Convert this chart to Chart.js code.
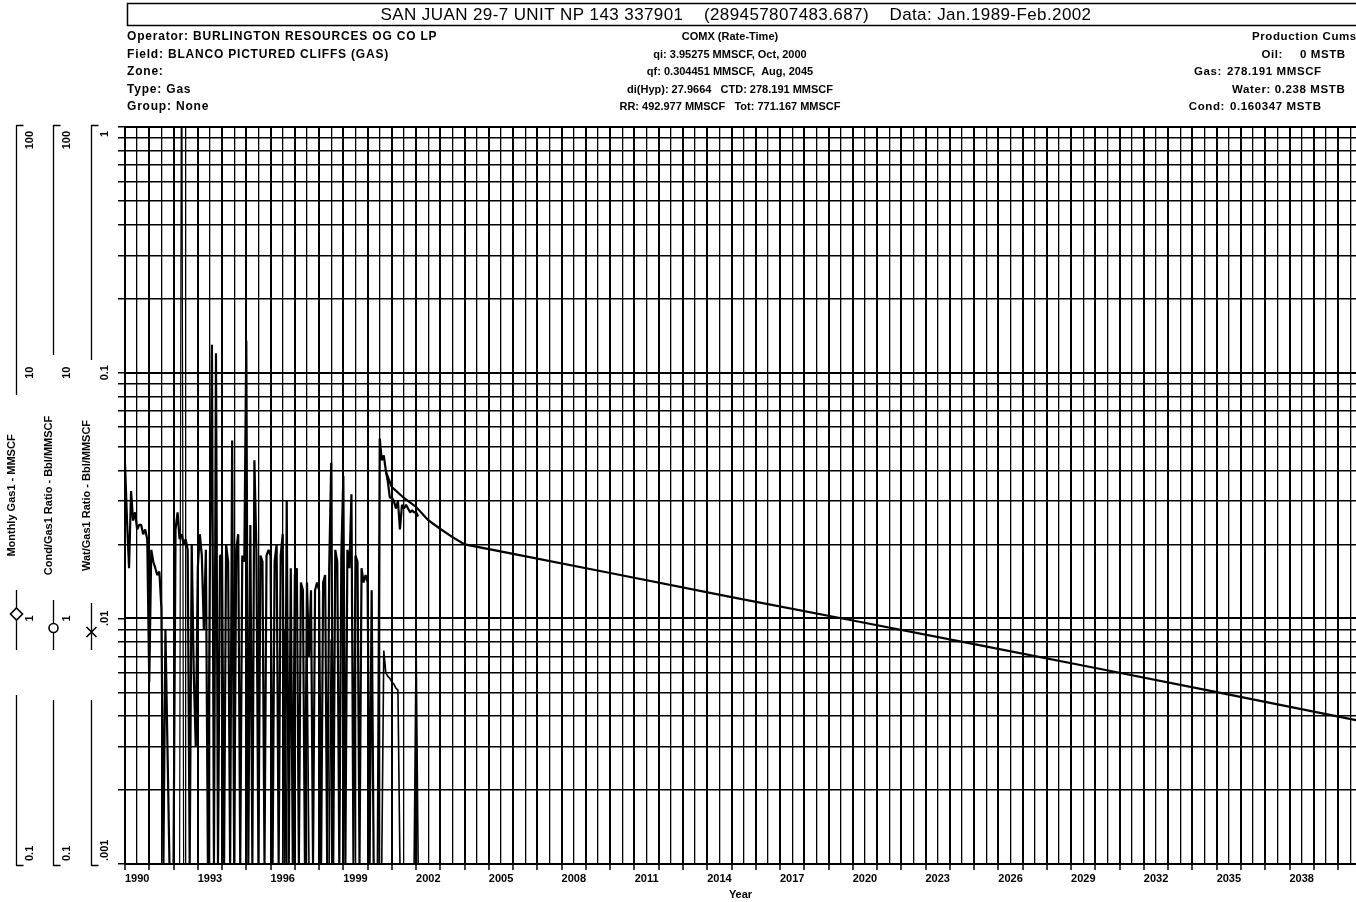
<!DOCTYPE html>
<html>
<head>
<meta charset="utf-8">
<script src="https://cdn.jsdelivr.net/npm/chart.js@4.4.0/dist/chart.umd.min.js"></script>
<style>
  html, body { margin: 0; padding: 0; background: #fff; }
  #wrap { width: 1356px; height: 902px; position: relative; }
</style>
</head>
<body>
<div id="wrap"><canvas id="declineChart"></canvas></div>
<script>
// --- data ---
const firstYear = 1990; // first plotted month, Jan 1990
const gasMonthly = [
  4.3, 2.5, 1.6, 3.3, 2.5, 2.7, 2.3, 2.4, 2.4, 2.2, 2.3, 2.1,   // 1990
  0.55, 1.9, 1.7, 1.6, 1.5, 1.55, 1.1, 0, 0.9, 0.3, 0, 0,       // 1991
  0, 2.3, 2.7, 2.1, 2.2, 2.0, 2.1, 1.9, 0, 2.0, 0.6, 0.3,       // 1992
  1.6, 2.2, 1.8, 0.9, 1.9, 0, 1.7, 13.0, 0, 12.0, 0, 1.8,       // 1993
  1.8, 0, 2.0, 1.7, 0, 5.3, 0, 1.9, 2.2, 0, 1.8, 1.7,           // 1994
  13.5, 0, 2.4, 0, 4.4, 1.9, 0, 1.8, 1.7, 0, 1.8, 1.9,          // 1995
  1.8, 0, 1.7, 2.0, 0, 1.8, 2.2, 0, 3.0, 0, 1.6, 0,             // 1996
  1.5, 1.6, 0, 1.4, 1.3, 0, 1.4, 0.7, 1.3, 0, 1.3, 1.4,         // 1997
  1.3, 0, 1.4, 1.5, 0, 1.6, 4.3, 0, 1.9, 1.7, 0, 1.8,           // 1998
  3.8, 0, 1.9, 1.6, 3.2, 0, 1.8, 1.7, 0, 1.6, 1.4, 1.5,         // 1999
  1.4, 0, 1.3, 0, 0, 0, 5.4, 4.4, 4.6, 4.0, 3.6, 3.1,           // 2000
  3.1, 3.0, 2.8, 3.0, 2.3, 2.9, 2.8, 2.9, 2.8, 2.7, 2.75, 2.7,  // 2001
  2.7, 2.6                                                      // 2002
];
const condMonthly = [
  0, 0, 0, 0, 0, 0, 0, 0, 0, 0, 0, 0,
  0, 0, 0, 0, 0, 0, 0, 0, 0, 0, 0, 0,
  0, 0, 0, 0, 0, 0, 0, 0, 0, 0, 0, 0,
  0, 0, 0, 0, 0, 0, 0, 0, 0, 0, 0, 0,
  0, 0, 0, 0, 0, 0, 0, 0, 0, 0, 0, 0,
  0, 0, 0, 0, 0, 0, 0, 0, 0, 0, 0, 0,
  0, 0, 0, 0, 0, 0, 0, 0.9, 0, 0, 0, 0,
  0, 0, 0, 0, 0, 0, 0.8, 0, 0, 0, 0, 0,
  0, 0, 0, 0, 0, 0, 0.82, 0, 0, 0, 0, 0,
  0, 0, 0, 0, 0, 0, 0, 0, 0, 0, 0, 0,
  0, 0, 0, 0, 0, 0, 0, 0, 0.74, 0.6, 0.58, 0.57,
  0.55, 0.54, 0.52, 0.51, 0, 0, 0, 0, 0, 0, 0, 0,
  0.78, 0
];
const watMonthly = [
  0, 0, 0, 0, 0, 0, 0, 0, 0, 0, 0, 0,
  0, 0, 0, 0, 0, 0, 0, 0, 0, 0, 0, 0,
  0, 0, 0, 0, 5.0, 0, 0, 0, 0, 0, 0, 0,
  0, 0, 0, 0, 0, 0, 0, 0, 0, 0, 0, 0,
  0, 0, 0, 0, 0, 0, 0, 0, 0, 0, 0, 0,
  0, 0, 0, 0, 0, 0, 0, 0, 0, 0, 0, 0,
  0, 0, 0, 0, 0, 0, 0, 0, 0, 0, 0, 0,
  0, 0, 0, 0, 0, 0, 0, 0, 0, 0, 0, 0,
  0, 0, 0, 0, 0, 0, 0, 0, 0, 0, 0, 0,
  0, 0, 0, 0, 0, 0, 0, 0, 0, 0, 0, 0,
  0, 0, 0, 0, 0, 0, 0, 0, 0, 0, 0, 0,
  0, 0, 0, 0, 0, 0, 0, 0, 0, 0, 0, 0,
  0, 0
];
// hyperbolic forecast, read at these dates
const fcYears = [2000.75, 2001.0, 2001.5, 2002.0, 2002.5, 2003.0, 2003.5, 2004.0, 2006, 2010, 2015, 2020, 2025, 2030, 2035, 2040.74];
const fcRates = [3.95, 3.42, 3.09, 2.84, 2.51, 2.31, 2.14, 2.0, 1.83, 1.53, 1.22, 0.98, 0.785, 0.628, 0.501, 0.385];

const yearLabels = ['1990','1993','1996','1999','2002','2005','2008','2011','2014','2017','2020','2023','2026','2029','2032','2035','2038'];
const gasAxisLabels = ['0.1', '1', '10', '100'];
const condAxisLabels = ['0.1', '1', '10', '100'];
const watAxisLabels = ['.001', '.01', '0.1', '1'];

const titleText = 'SAN JUAN 29-7 UNIT NP 143 337901    (289457807483.687)    Data: Jan.1989-Feb.2002';
const leftInfo = ['Operator: BURLINGTON RESOURCES OG CO LP', 'Field: BLANCO PICTURED CLIFFS (GAS)', 'Zone:', 'Type: Gas', 'Group: None'];
const fitInfo = ['COMX (Rate-Time)', 'qi: 3.95275 MMSCF, Oct, 2000', 'qf: 0.304451 MMSCF,  Aug, 2045', 'di(Hyp): 27.9664   CTD: 278.191 MMSCF', 'RR: 492.977 MMSCF   Tot: 771.167 MMSCF'];
// text, x, row, alignment
const cumsInfo = [
  ['Production Cums', 1252, 0, 'left'],
  ['Oil:', 1283, 1, 'right'], ['0 MSTB', 1300, 1, 'left'],
  ['Gas:', 1222, 2, 'right'], ['278.191 MMSCF', 1227, 2, 'left'],
  ['Water: 0.238 MSTB', 1232, 3, 'left'],
  ['Cond:', 1225, 4, 'right'], ['0.160347 MSTB', 1230, 4, 'left']
];

const FONT = '"Liberation Sans", Arial, sans-serif';

// zero months sit on the floor of their axis, as in the original plot
function monthly(values, floor) {
  return values.map((v, i) => ({ x: firstYear + i / 12, y: Math.max(v, floor) }));
}

function logTicks(lo, hi) {
  const out = [];
  for (let d = lo; d <= hi * 1.0001; d *= 10) {
    for (let m = 1; m < 10; m++) {
      const v = +(m * d).toPrecision(3);
      if (v <= hi * 1.0001) out.push({ value: v });
    }
  }
  return out;
}
function isDecade(v) {
  const l = Math.log10(v);
  return Math.abs(l - Math.round(l)) < 1e-6;
}

// left side axes: bracket lines, labels, legend symbols
const sideAxes = [
  { id: 'yGas', labels: gasAxisLabels, marker: 'diamond', markY: 614, segs: [[125, 395], [590, 650], [695, 866]] },
  { id: 'yCond', labels: condAxisLabels, marker: 'circle', markY: 628, segs: [[125, 355], [600, 650], [700, 866]] },
  { id: 'yWat', labels: watAxisLabels, marker: 'cross', markY: 632, segs: [[125, 360], [603, 650], [700, 866]] }
];

const sideAxisPlugin = {
  id: 'sideAxes',
  afterDraw(chart) {
    const ctx = chart.ctx;
    ctx.save();
    ctx.strokeStyle = '#000';
    ctx.fillStyle = '#000';
    sideAxes.forEach(a => {
      const sc = chart.scales[a.id];
      const lx = Math.round(sc.left + 16) + 0.5;
      ctx.lineWidth = 1.3;
      ctx.beginPath();
      a.segs.forEach(([y0, y1]) => { ctx.moveTo(lx, y0); ctx.lineTo(lx, y1); });
      ctx.moveTo(lx, 125.5); ctx.lineTo(lx + 7, 125.5);
      ctx.moveTo(lx, 865.5); ctx.lineTo(lx + 7, 865.5);
      ctx.stroke();
      // tick labels, rotated
      ctx.font = 'bold 11px ' + FONT;
      ctx.textBaseline = 'middle';
      a.labels.forEach((t, i) => {
        const py = sc.getPixelForValue(sc.min * Math.pow(10, i));
        ctx.save();
        ctx.translate(sc.left + 30, py);
        ctx.rotate(-Math.PI / 2);
        ctx.textAlign = i === 0 ? 'left' : (i === a.labels.length - 1 ? 'right' : 'center');
        ctx.fillText(t, i === 0 ? 3 : (i === a.labels.length - 1 ? -4 : 0), 0);
        ctx.restore();
      });
      // legend symbol
      const my = a.markY;
      ctx.lineWidth = 1.6;
      ctx.beginPath();
      if (a.marker === 'diamond') {
        ctx.moveTo(lx, my - 6); ctx.lineTo(lx + 6, my); ctx.lineTo(lx, my + 6); ctx.lineTo(lx - 6, my); ctx.closePath();
        ctx.fillStyle = '#fff'; ctx.fill(); ctx.stroke();
      } else if (a.marker === 'circle') {
        ctx.arc(lx, my, 4.5, 0, Math.PI * 2);
        ctx.fillStyle = '#fff'; ctx.fill(); ctx.stroke();
      } else {
        ctx.moveTo(lx - 5, my - 5); ctx.lineTo(lx + 5, my + 5);
        ctx.moveTo(lx + 5, my - 5); ctx.lineTo(lx - 5, my + 5);
        ctx.stroke();
      }
      ctx.fillStyle = '#000';
    });
    ctx.restore();
  }
};

const headerPlugin = {
  id: 'header',
  afterDraw(chart) {
    const ctx = chart.ctx;
    ctx.save();
    ctx.fillStyle = '#000';
    ctx.strokeStyle = '#000';
    ctx.lineWidth = 1.5;
    ctx.strokeRect(127.5, 3.5, 1300, 22);
    ctx.font = '17px ' + FONT;
    ctx.letterSpacing = '0.4px';
    ctx.textAlign = 'center';
    ctx.textBaseline = 'middle';
    ctx.fillText(titleText, 736, 15);
    ctx.font = 'bold 12px ' + FONT;
    ctx.letterSpacing = '0.8px';
    ctx.textAlign = 'left';
    leftInfo.forEach((t, i) => ctx.fillText(t, 127, 37 + i * 17.5));
    ctx.font = 'bold 11.5px ' + FONT;
    ctx.letterSpacing = '0.6px';
    cumsInfo.forEach(([t, x, row, align]) => {
      ctx.textAlign = align;
      ctx.fillText(t, x, 37 + row * 17.5);
    });
    ctx.font = 'bold 11px ' + FONT;
    ctx.letterSpacing = '0px';
    ctx.textAlign = 'center';
    fitInfo.forEach((t, i) => ctx.fillText(t, 730, 37 + i * 17.5));
    ctx.restore();
  }
};

const titleFont = { family: FONT, size: 11, weight: 'bold' };

new Chart(document.getElementById('declineChart'), {
  type: 'line',
  data: {
    datasets: [
      { label: 'Monthly Gas1', data: monthly(gasMonthly, 0.1), yAxisID: 'yGas', borderColor: '#000', borderWidth: 2.2, pointRadius: 0, borderJoinStyle: 'bevel' },
      { label: 'Cond/Gas1 Ratio', data: monthly(condMonthly, 0.1), yAxisID: 'yCond', borderColor: '#000', borderWidth: 1.6, pointRadius: 0, borderJoinStyle: 'bevel' },
      { label: 'Wat/Gas1 Ratio', data: monthly(watMonthly, 0.001), yAxisID: 'yWat', borderColor: '#000', borderWidth: 1.2, pointRadius: 0, borderJoinStyle: 'bevel' },
      { label: 'Forecast', data: fcYears.map((x, i) => ({ x, y: fcRates[i] })), yAxisID: 'yGas', borderColor: '#000', borderWidth: 2.2, pointRadius: 0 }
    ]
  },
  options: {
    responsive: true,
    maintainAspectRatio: false,
    animation: false,
    devicePixelRatio: 1,
    layout: { padding: { top: 127, left: 0, right: 0, bottom: 0 } },
    plugins: { legend: { display: false }, tooltip: { enabled: false } },
    scales: {
      x: {
        type: 'linear', min: 1990, max: 2040.74,
        afterBuildTicks: sc => {
          const t = [];
          for (let v = 1990; v <= 2040.5; v += 0.5) t.push({ value: v });
          sc.ticks = t;
        },
        afterFit: sc => { sc.height = 38; },
        ticks: {
          autoSkip: false, maxRotation: 0, minRotation: 0, padding: 2, color: '#000', font: titleFont,
          callback: v => (yearLabels.includes(String(v - 0.5)) ? String(v - 0.5) : '')
        },
        grid: {
          color: '#000',
          lineWidth: c => (c.tick && Number.isInteger(c.tick.value) ? 2 : 1.3),
          tickLength: 6,
          tickColor: c => (c.tick && Number.isInteger(c.tick.value) ? '#000' : 'rgba(0,0,0,0)'),
          tickWidth: 1.5
        },
        border: { display: true, color: '#000', width: 2 },
        title: { display: true, text: 'Year', color: '#000', font: titleFont, padding: { top: 0, bottom: 0 } }
      },
      yGas: {
        type: 'logarithmic', position: 'left', min: 0.1, max: 100, weight: 3,
        afterBuildTicks: sc => { sc.ticks = logTicks(0.1, 100); },
        afterFit: sc => { sc.width = 37; },
        ticks: { display: false },
        grid: { drawOnChartArea: true, drawTicks: false, color: '#000', lineWidth: c => (c.tick && isDecade(c.tick.value) ? 2 : 1.5) },
        border: { display: false },
        title: { display: true, text: 'Monthly Gas1 - MMSCF', color: '#000', font: titleFont, padding: { top: 5.5, bottom: 0 } }
      },
      yCond: {
        type: 'logarithmic', position: 'left', min: 0.1, max: 100, weight: 2,
        afterFit: sc => { sc.width = 38; },
        ticks: { display: false },
        grid: { display: false },
        border: { display: false },
        title: { display: true, text: 'Cond/Gas1 Ratio - Bbl/MMSCF', color: '#000', font: titleFont, padding: { top: 5.5, bottom: 0 } }
      },
      yWat: {
        type: 'logarithmic', position: 'left', min: 0.001, max: 1, weight: 1,
        afterBuildTicks: sc => { sc.ticks = logTicks(0.001, 1); },
        afterFit: sc => { sc.width = 50; },
        ticks: { display: false },
        grid: { drawOnChartArea: false, drawTicks: true, tickLength: 7, color: '#000', lineWidth: 1.5 },
        border: { display: true, color: '#000', width: 2 },
        title: { display: true, text: 'Wat/Gas1 Ratio - Bbl/MMSCF', color: '#000', font: titleFont, padding: { top: 5.5, bottom: 0 } }
      }
    }
  },
  plugins: [sideAxisPlugin, headerPlugin]
});
</script>
</body>
</html>
